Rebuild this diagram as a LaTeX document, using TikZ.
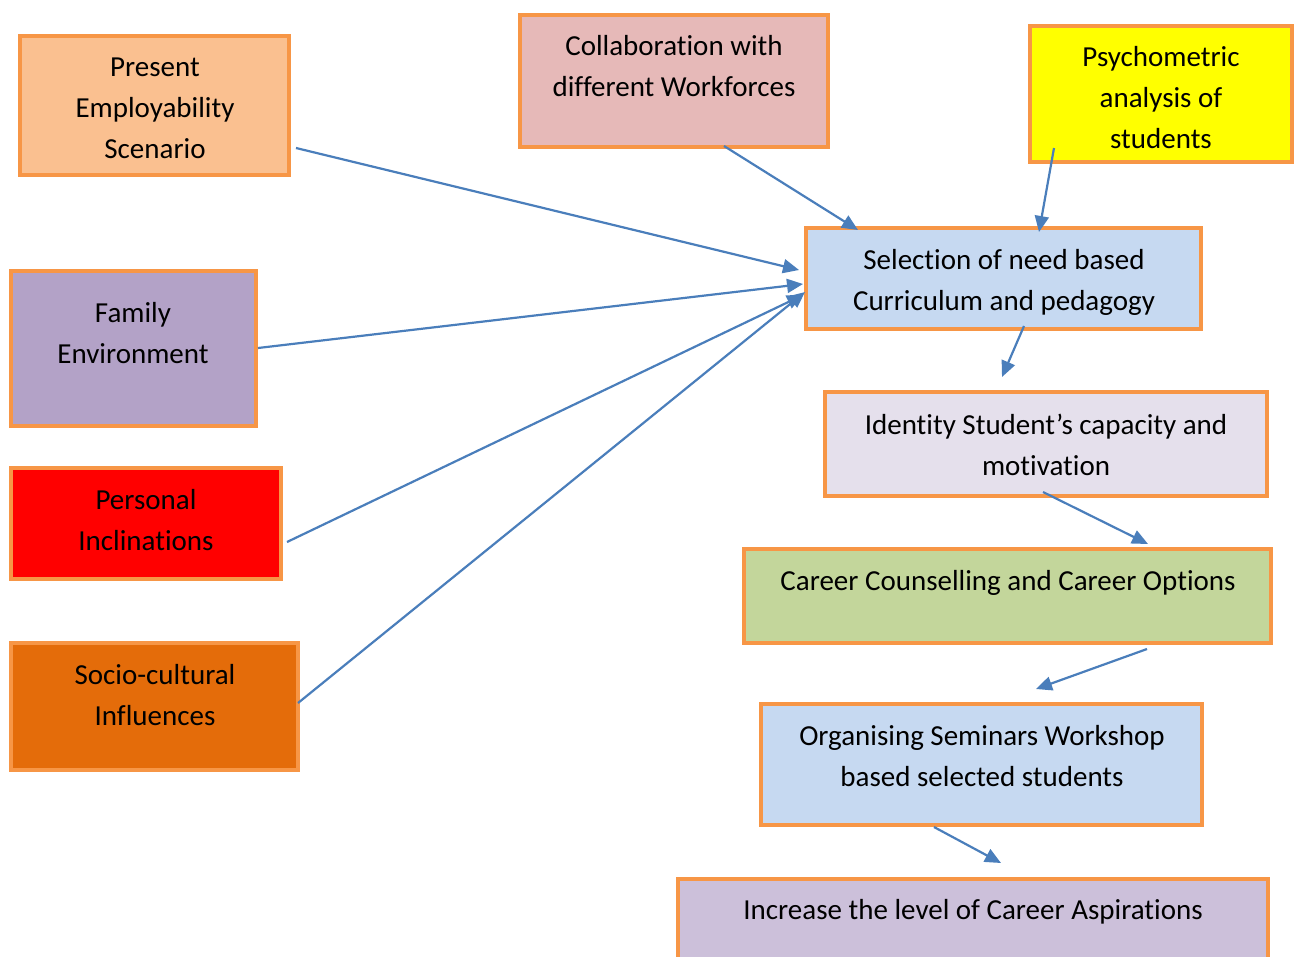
\documentclass[tikz,border=0pt]{standalone}
\usepackage{fontspec}
\setmainfont{Carlito}[Ligatures=NoCommon]
\usetikzlibrary{arrows.meta}
\definecolor{bord}{HTML}{F79646}
\definecolor{arr}{HTML}{4A7EBB}
\definecolor{cpes}{HTML}{FAC090}
\definecolor{ccol}{HTML}{E6B9B8}
\definecolor{cpsy}{HTML}{FFFF00}
\definecolor{cper}{HTML}{FF0000}
\definecolor{cfam}{HTML}{B3A2C7}
\definecolor{csoc}{HTML}{E46C0A}
\definecolor{cblue}{HTML}{C6D9F1}
\definecolor{cide}{HTML}{E5E0EC}
\definecolor{ccar}{HTML}{C3D69B}
\definecolor{cinc}{HTML}{CCC0DA}
\begin{document}
\begin{tikzpicture}[x=1pt,y=-1pt,
  box/.style={draw=bord, line width=4pt, inner sep=0pt},
  txt/.style={font=\fontsize{29}{41}\selectfont, align=center, inner sep=0pt, text=black},
  conn/.style={draw=arr, line width=2.2pt, -{Triangle[length=16pt,width=14pt]}}]
\useasboundingbox (0,0) rectangle (1295,956);
% boxes
\node[box, fill=cpes, minimum width=269pt, minimum height=139pt] (pes) at (154.5,105.5) {};
\node[box, fill=ccol, minimum width=308pt, minimum height=132pt] (col) at (674,81) {};
\node[box, fill=cpsy, minimum width=262pt, minimum height=136pt] (psy) at (1161,94) {};
\node[box, fill=cfam, minimum width=245pt, minimum height=155pt] (fam) at (133.5,348.5) {};
\node[box, fill=cper, minimum width=270pt, minimum height=111pt] (per) at (146,523.5) {};
\node[box, fill=csoc, minimum width=287pt, minimum height=127pt] (soc) at (154.5,706.5) {};
\node[box, fill=cblue, minimum width=395pt, minimum height=101pt] (sel) at (1003.5,278.5) {};
\node[box, fill=cide, minimum width=442pt, minimum height=104pt] (ide) at (1046,444) {};
\node[box, fill=ccar, minimum width=527pt, minimum height=94pt] (car) at (1007.5,596) {};
\node[box, fill=cblue, minimum width=441pt, minimum height=121pt] (org) at (981.5,764.5) {};
\node[box, fill=cinc, minimum width=590pt, minimum height=121pt] (inc) at (973,939.5) {};
% texts
\node[txt] (tpes) at (155,108) {Present\\Employability\\Scenario};
\node[txt] (tcol) at (674,66) {Collaboration with\\different Workforces};
\node[txt] (tpsy) at (1161,97.5) {Psychometric\\analysis of\\students};
\node[txt] (tfam) at (133,333.5) {Family\\Environment};
\node[txt] (tper) at (146,520.5) {Personal\\Inclinations};
\node[txt] (tsoc) at (155,695) {Socio-cultural\\Influences};
\node[txt] (tsel) at (1004,282.5) {Selection of need based\\Curriculum and pedagogy};
\node[txt] (tide) at (1046,444.5) {Identity Student’s capacity and\\motivation};
\node[txt] (tcar) at (1008,583) {Career Counselling and Career Options};
\node[txt] (torg) at (982,756) {Organising Seminars Workshop\\based selected students};
\node[txt] (tinc) at (973,912) {Increase the level of Career Aspirations};
% connector end points
\coordinate (a1) at (296,148);  \coordinate (b1) at (799,270);
\coordinate (a2) at (724,146);  \coordinate (b2) at (858,230);
\coordinate (a3) at (1054,148); \coordinate (b3) at (1039,232);
\coordinate (a4) at (258,348);  \coordinate (b4) at (803,284);
\coordinate (a5) at (287,542);  \coordinate (b5) at (803,295);
\coordinate (a6) at (298,703);  \coordinate (b6) at (805,292);
\coordinate (a7) at (1024,326); \coordinate (b7) at (1002,377);
\coordinate (a8) at (1043,492); \coordinate (b8) at (1148,544);
\coordinate (a9) at (1147,649); \coordinate (b9) at (1036,689);
\coordinate (a10) at (934,827); \coordinate (b10) at (1001,863);
\foreach \i in {1,...,10} {\draw[conn] (a\i) -- (b\i);}
\end{tikzpicture}
\end{document}
